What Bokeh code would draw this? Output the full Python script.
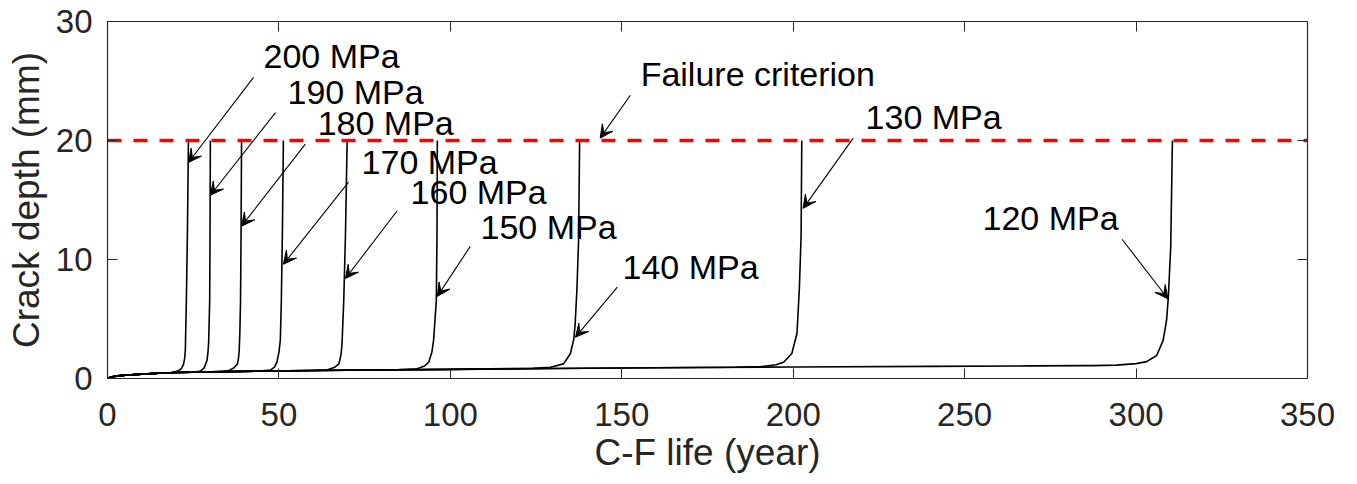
from bokeh.plotting import figure
from bokeh.models import LinearAxis, Range1d, FixedTicker, Arrow, VeeHead, Label
from bokeh.embed import file_html
from bokeh.resources import INLINE

# ---------------- data ----------------
x_ticks = [0, 50, 100, 150, 200, 250, 300, 350]
y_ticks = [0, 10, 20, 30]
failure_depth = 20

# shared slow-growth (pitting) stage
base_t = [0, 1, 3, 6, 10, 15, 20, 30, 45, 60, 80, 100, 130, 160, 200, 240, 270, 285, 295]
base_a = [0.0, 0.12, 0.22, 0.3, 0.37, 0.44, 0.5, 0.56, 0.62, 0.67, 0.72, 0.77, 0.84, 0.9, 0.97, 1.02, 1.06, 1.08, 1.1]

stresses = ["200 MPa", "190 MPa", "180 MPa", "170 MPa", "160 MPa",
            "150 MPa", "140 MPa", "130 MPa", "120 MPa"]

knee_t = {
    "200 MPa": [18.5, 20.5, 21.6, 22.2, 22.5, 22.7, 23.0, 23.3, 23.6],
    "190 MPa": [25.5, 27.1, 28.2, 29.0, 29.3, 29.5, 29.8, 29.9, 30.0],
    "180 MPa": [33.5, 35.4, 36.9, 37.9, 38.2, 38.4, 38.6, 38.8, 38.95, 39.1],
    "170 MPa": [45.0, 47.5, 48.7, 49.4, 50.0, 50.4, 50.7, 51.0, 51.3],
    "160 MPa": [61.0, 64.0, 66.3, 67.5, 68.1, 68.4, 68.9, 69.4, 69.9],
    "150 MPa": [85.0, 90.3, 92.5, 93.7, 94.6, 95.1, 95.9, 96.1, 96.2],
    "140 MPa": [124.0, 129.2, 133.0, 135.0, 136.0, 136.4, 136.9, 137.4, 137.7],
    "130 MPa": [183.0, 190.5, 195.0, 197.2, 199.6, 201.1, 201.8, 202.3, 202.5],
    "120 MPa": [287.0, 294.3, 300.0, 303.1, 306.0, 307.9, 308.9, 309.4, 310.1, 310.6],
}
knee_a = {
    "200 MPa": [0.48, 0.62, 0.84, 1.23, 1.7, 2.35, 6.5, 12.0, 20.0],
    "190 MPa": [0.54, 0.62, 0.9, 1.5, 2.2, 3.0, 6.5, 12.0, 20.0],
    "180 MPa": [0.59, 0.66, 0.9, 1.23, 1.7, 2.3, 3.8, 6.5, 12.0, 20.0],
    "170 MPa": [0.64, 0.7, 0.95, 1.37, 2.2, 3.2, 6.5, 12.0, 20.0],
    "160 MPa": [0.68, 0.72, 0.95, 1.23, 2.0, 2.9, 6.5, 12.0, 20.0],
    "150 MPa": [0.75, 0.82, 1.05, 1.37, 2.2, 3.2, 6.5, 12.0, 20.0],
    "140 MPa": [0.86, 0.95, 1.23, 2.08, 3.3, 4.6, 7.4, 11.6, 20.0],
    "130 MPa": [0.95, 1.0, 1.15, 1.37, 2.1, 3.8, 7.6, 12.0, 20.0],
    "120 MPa": [1.08, 1.12, 1.25, 1.42, 1.93, 3.2, 4.9, 6.8, 11.0, 20.0],
}

# annotations: text, text position, arrow start, arrow tip (data units)
ann_text = stresses[:6] + ["140 MPa", "Failure criterion", "130 MPa", "120 MPa"]
ann_xy = [(45.5, 27.06), (52.5, 24.1), (61.3, 21.5), (74.1, 18.2), (88.4, 15.7),
          (108.8, 12.7), (150.2, 9.4), (155.5, 25.6), (221.1, 22.0), (255.2, 13.5)]
arrow_from = [(42.6, 25.3), (49.0, 22.35), (57.7, 19.7), (70.3, 16.5), (84.5, 14.1),
              (105.8, 11.1), (148.7, 7.67), (152.5, 23.8), (217.5, 20.2), (295.9, 11.7)]
arrow_to = [(23.6, 18.15), (30.0, 15.4), (39.1, 12.8), (51.3, 9.6), (69.4, 8.4),
            (96.2, 6.9), (136.5, 3.47), (143.7, 20.2), (202.9, 14.3), (309.3, 6.7)]

# ---------------- figure ----------------
FONT = "Liberation Sans"
AX = "#262626"

p = figure(frame_width=1200, frame_height=357,
           x_range=Range1d(0, 350), y_range=Range1d(0, 30),
           output_backend="svg", toolbar_location=None,
           min_border_left=107, min_border_top=21, min_border_right=42, min_border_bottom=100,
           background_fill_color="white", border_fill_color="white")
p.grid.visible = False
p.outline_line_color = None

p.xaxis.ticker = FixedTicker(ticks=x_ticks)
p.yaxis.ticker = FixedTicker(ticks=y_ticks)
for ax in (p.xaxis[0], p.yaxis[0]):
    ax.major_tick_in = 10
    ax.major_tick_out = 0
    ax.minor_tick_line_color = None
    ax.axis_line_color = AX
    ax.major_tick_line_color = AX
    ax.axis_line_width = 1.2
    ax.major_label_text_font = FONT
    ax.major_label_text_font_size = "33px"
    ax.major_label_text_color = AX
    ax.axis_label_text_font = FONT
    ax.axis_label_text_font_size = "37px"
    ax.axis_label_text_font_style = "normal"
    ax.axis_label_text_color = AX
p.xaxis.axis_label = "C-F life (year)"
p.yaxis.axis_label = "Crack depth (mm)"
p.xaxis.major_label_standoff = 24
p.xaxis.axis_label_standoff = 3
p.yaxis.major_label_standoff = 15
p.yaxis.axis_label_standoff = 6

for side, tk in (("above", x_ticks), ("right", y_ticks)):
    ax = LinearAxis(ticker=FixedTicker(ticks=tk), major_tick_in=10, major_tick_out=0,
                    minor_tick_line_color=None, axis_line_color=AX, axis_line_width=1.2,
                    major_tick_line_color=AX, major_label_text_font_size="0px",
                    major_label_text_color=None, major_label_standoff=0)
    p.add_layout(ax, side)

# curves
for s in stresses:
    t0 = knee_t[s][0]
    xs = [t for t in base_t if t < t0] + knee_t[s]
    ys = [a for t, a in zip(base_t, base_a) if t < t0] + knee_a[s]
    p.line(xs, ys, line_color="black", line_width=1.6)

# failure criterion
p.line([0, 350], [failure_depth, failure_depth], line_color="#ff0000",
       line_width=3.5, line_dash="14 12")

# annotations
for txt, (lx, ly), (x0, y0), (x1, y1) in zip(ann_text, ann_xy, arrow_from, arrow_to):
    p.add_layout(Arrow(x_start=x0, y_start=y0, x_end=x1, y_end=y1, line_width=1.1,
                       line_color="black",
                       end=VeeHead(size=13, fill_color="black", line_color="black", line_width=1)))
    p.add_layout(Label(x=lx, y=ly, text=txt, text_font=FONT, text_font_size="34px",
                       text_baseline="middle", text_align="left", text_color="black"))

open("out.html", "w").write(file_html(p, INLINE))
